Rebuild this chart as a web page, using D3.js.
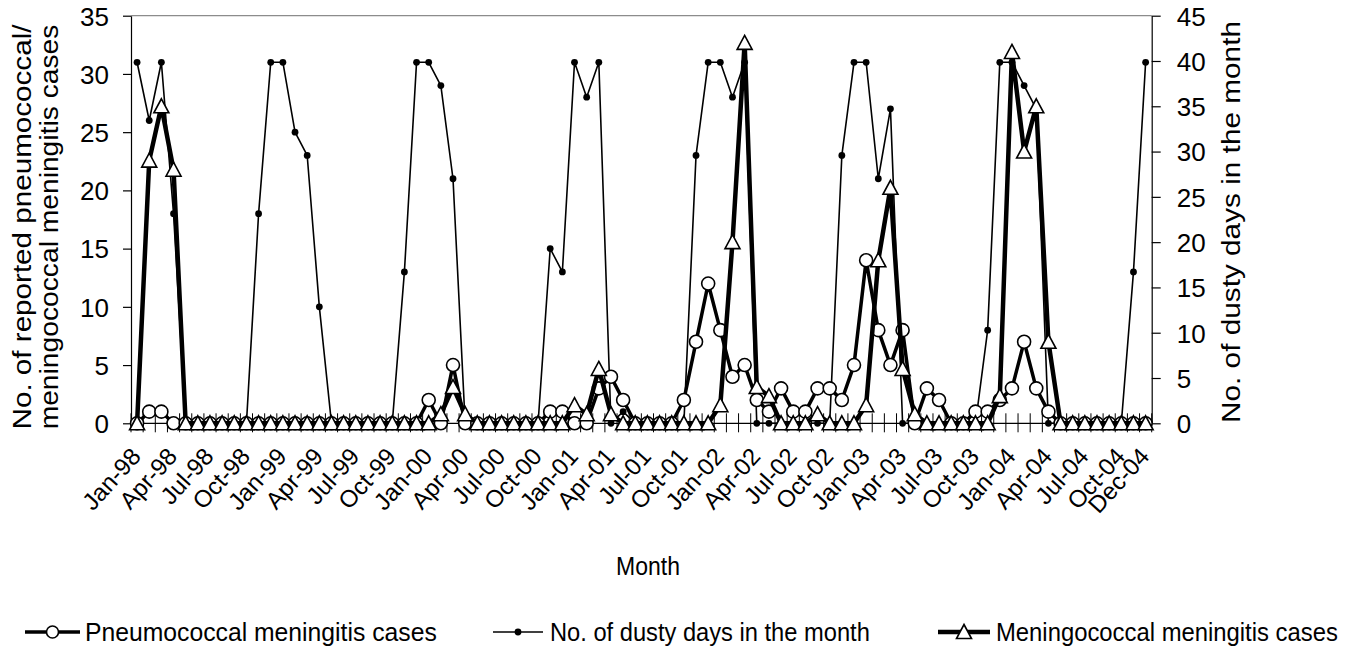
<!DOCTYPE html>
<html><head><meta charset="utf-8">
<script src="https://cdn.jsdelivr.net/npm/d3@7"></script>
<style>
body{margin:0;background:#fff}
svg{display:block}
text{font-family:"Liberation Sans",Arial,Helvetica,sans-serif;fill:#000}
</style>
</head><body>
<svg id="chart" width="1348" height="651"></svg>
<script>
// ---------- data ----------
const monthNames = ["Jan","Feb","Mar","Apr","May","Jun","Jul","Aug","Sep","Oct","Nov","Dec"];
const years = ["98","99","00","01","02","03","04"];
const months = years.flatMap(y => monthNames.map(m => m + "-" + y));

const tickLabels = ["Jan-98","Apr-98","Jul-98","Oct-98","Jan-99","Apr-99","Jul-99","Oct-99",
  "Jan-00","Apr-00","Jul-00","Oct-00","Jan-01","Apr-01","Jul-01","Oct-01",
  "Jan-02","Apr-02","Jul-02","Oct-02","Jan-03","Apr-03","Jul-03","Oct-03",
  "Jan-04","Apr-04","Jul-04","Oct-04","Dec-04"];
const leftTicks = [0,5,10,15,20,25,30,35];
const rightTicks = [0,5,10,15,20,25,30,35,40,45];

const pneumococcal = [
  0,1,1,0,0,0,0,0,0,0,0,0,
  0,0,0,0,0,0,0,0,0,0,0,0,
  2,0,5,0,0,0,0,0,0,0,1,1,
  0,0,3,4,2,0,0,0,0,2,7,12,
  8,4,5,2,1,3,1,1,3,3,2,5,
  14,8,5,8,0,3,2,0,0,1,1,2,
  3,7,3,1,0,0,0,0,0,0,0,0];
const dustyDays = [
  31,26,31,18,0,0,0,0,0,0,18,31,
  31,25,23,10,0,0,0,0,0,0,13,31,
  31,29,21,0,0,0,0,0,0,0,15,13,
  31,28,31,0,1,0,0,0,0,0,23,31,
  31,28,31,0,0,0,0,0,0,0,23,31,
  31,21,27,0,0,0,0,0,0,0,8,31,
  31,29,27,0,0,0,0,0,0,0,13,31];
const meningococcal = [
  0,29,35,28,0,0,0,0,0,0,0,0,
  0,0,0,0,0,0,0,0,0,0,0,0,
  0,1,4,1,0,0,0,0,0,0,0,0,
  2,1,6,1,0,0,0,0,0,0,0,0,
  2,20,42,4,3,0,0,0,1,0,0,0,
  2,18,26,6,1,0,0,0,0,0,0,3,
  41,30,35,9,0,0,0,0,0,0,0,0];

const legendItems = ["Pneumococcal meningitis cases","No. of dusty days in the month","Meningococcal meningitis cases"];

// ---------- layout ----------
const svg = d3.select("#chart");
const plot = {left:131, right:1151.7, top:15.7, bottom:423.3};
const AX_FS = 26;

const x = d3.scaleBand().domain(months).range([plot.left, plot.right]).paddingInner(0).paddingOuter(0);
const cx = m => x(m) + x.bandwidth()/2;
const yL = d3.scaleLinear().domain([0,35]).range([plot.bottom, plot.top]);
const yR = d3.scaleLinear().domain([0,45]).range([plot.bottom, plot.top]);

// helper: fit a text element to a target length along its baseline
function fit(sel, target){
  const w = sel.node().getComputedTextLength();
  return target / w;
}

// top border (gray)
svg.append("line").attr("x1",plot.left).attr("x2",plot.right).attr("y1",plot.top).attr("y2",plot.top)
  .attr("stroke","#8c8c8c").attr("stroke-width",1.2);

// left axis
const gL = svg.append("g").attr("transform",`translate(${plot.left},0)`)
  .call(d3.axisLeft(yL).tickValues(leftTicks).tickSize(8).tickSizeOuter(0).tickPadding(14));
gL.select(".domain").attr("stroke","#000").attr("stroke-width",1.2);
gL.selectAll(".tick line").attr("stroke","#000").attr("stroke-width",1.2);
gL.selectAll(".tick text").attr("font-size",AX_FS).attr("font-family",null).attr("dy","0.36em");

// right axis
const gR = svg.append("g").attr("transform",`translate(${plot.right},0)`)
  .call(d3.axisRight(yR).tickValues(rightTicks).tickSize(9).tickSizeOuter(0).tickPadding(16));
gR.select(".domain").attr("stroke","#000").attr("stroke-width",1.2);
gR.selectAll(".tick line").attr("stroke","#000").attr("stroke-width",1.2);
gR.selectAll(".tick text").attr("font-size",AX_FS).attr("font-family",null).attr("dy","0.36em");

// bottom axis: line + crossing ticks at category boundaries
svg.append("line").attr("x1",plot.left).attr("x2",plot.right).attr("y1",plot.bottom).attr("y2",plot.bottom)
  .attr("stroke","#000").attr("stroke-width",1.2);
const bounds = months.map(m => x(m)).concat([x.range()[1]]);
svg.append("g").selectAll("line").data(bounds).join("line")
  .attr("x1",d=>d).attr("x2",d=>d).attr("y1",plot.bottom-10).attr("y2",plot.bottom+9)
  .attr("stroke","#000").attr("stroke-width",1);

// x tick labels (rotated)
svg.append("g").selectAll("text").data(tickLabels).join("text")
  .attr("transform",d=>`translate(${cx(d)+5},${plot.bottom+34}) rotate(-48)`)
  .attr("text-anchor","end").attr("font-size",24).text(d=>d);

// axis titles
function vTitle(str, tx, ty, len){
  const t = svg.append("text").attr("text-anchor","middle").attr("font-size",26).text(str);
  const s = fit(t, len);
  t.attr("transform",`translate(${tx},${ty}) rotate(-90) scale(${s},1)`);
}
vTitle("No. of reported pneumococcal/", 31, 227, 405);
vTitle("meningococcal meningitis cases", 58, 227, 405);
vTitle("No. of dusty days in the month", 1240, 222, 402);
svg.append("text").attr("transform","translate(648,575) scale(0.92,1)").attr("text-anchor","middle")
  .attr("font-size",25).text("Month");

// ---------- series ----------
const triPath = "M0,-7.5L7.5,6.5L-7.5,6.5Z";

// dusty days (left axis, thin line with dots)
svg.append("path").datum(dustyDays)
  .attr("d", d3.line().x((d,i)=>cx(months[i])).y(d=>yL(d)))
  .attr("fill","none").attr("stroke","#000").attr("stroke-width",1.6).attr("stroke-linejoin","round");
svg.append("g").selectAll("circle").data(dustyDays).join("circle")
  .attr("cx",(d,i)=>cx(months[i])).attr("cy",d=>yL(d)).attr("r",3.4).attr("fill","#000");

// pneumococcal (left axis, thick line, open circles)
svg.append("path").datum(pneumococcal)
  .attr("d", d3.line().x((d,i)=>cx(months[i])).y(d=>yL(d)))
  .attr("fill","none").attr("stroke","#000").attr("stroke-width",3.5).attr("stroke-linejoin","round");
svg.append("g").selectAll("circle").data(pneumococcal).join("circle")
  .attr("cx",(d,i)=>cx(months[i])).attr("cy",d=>yL(d)).attr("r",6.5)
  .attr("fill","#fff").attr("stroke","#000").attr("stroke-width",1.6);

// meningococcal (right axis, thick line, open triangles)
svg.append("path").datum(meningococcal)
  .attr("d", d3.line().x((d,i)=>cx(months[i])).y(d=>yR(d)))
  .attr("fill","none").attr("stroke","#000").attr("stroke-width",4.5).attr("stroke-linejoin","round");
svg.append("g").selectAll("path").data(meningococcal).join("path")
  .attr("transform",(d,i)=>`translate(${cx(months[i])},${yR(d)})`).attr("d",triPath)
  .attr("fill","#fff").attr("stroke","#000").attr("stroke-width",1.6).attr("stroke-linejoin","miter");

// ---------- legend ----------
const LY = 632;
const lg = svg.append("g");
function legendText(tx, str, len){
  const t = lg.append("text").attr("font-size",26).text(str);
  const s = fit(t, len);
  t.attr("transform",`translate(${tx},${LY+9}) scale(${s},1)`);
}
lg.append("line").attr("x1",25).attr("x2",80).attr("y1",LY).attr("y2",LY).attr("stroke","#000").attr("stroke-width",3.5);
lg.append("circle").attr("cx",52.5).attr("cy",LY).attr("r",6).attr("fill","#fff").attr("stroke","#000").attr("stroke-width",1.6);
legendText(85, legendItems[0], 352);
lg.append("line").attr("x1",493).attr("x2",543).attr("y1",LY).attr("y2",LY).attr("stroke","#000").attr("stroke-width",1.6);
lg.append("circle").attr("cx",518).attr("cy",LY).attr("r",3.4).attr("fill","#000");
legendText(550, legendItems[1], 320);
lg.append("line").attr("x1",938).attr("x2",990).attr("y1",LY).attr("y2",LY).attr("stroke","#000").attr("stroke-width",4.5);
lg.append("path").attr("transform",`translate(964,${LY})`).attr("d",triPath).attr("fill","#fff").attr("stroke","#000").attr("stroke-width",1.6);
legendText(996, legendItems[2], 342);
</script>
</body></html>
